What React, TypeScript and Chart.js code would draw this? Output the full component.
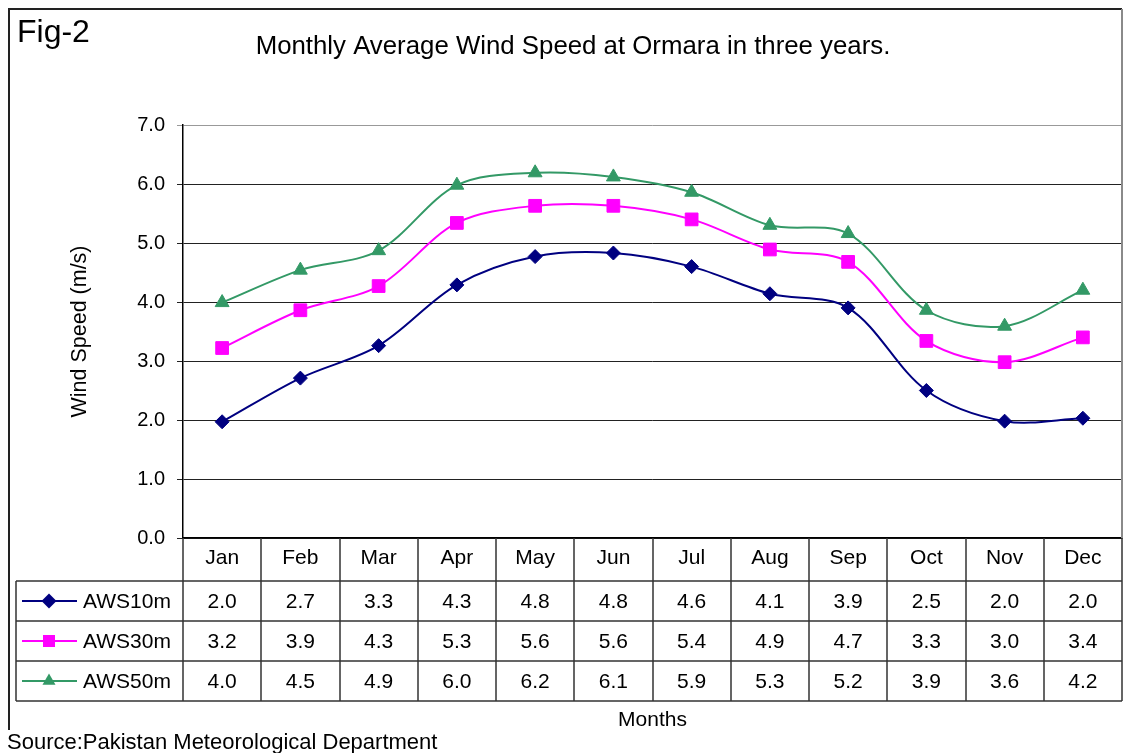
import React, { useEffect, useRef } from "react";
import { Chart, registerables } from "chart.js";

Chart.register(...registerables);

const months = ["Jan", "Feb", "Mar", "Apr", "May", "Jun", "Jul", "Aug", "Sep", "Oct", "Nov", "Dec"];
const aws10 = [1.97, 2.71, 3.26, 4.29, 4.77, 4.83, 4.6, 4.14, 3.9, 2.5, 1.98, 2.03];
const aws30 = [3.22, 3.86, 4.27, 5.34, 5.63, 5.63, 5.4, 4.89, 4.68, 3.34, 2.98, 3.4];
const aws50 = [3.99, 4.54, 4.87, 5.98, 6.19, 6.12, 5.86, 5.3, 5.16, 3.86, 3.59, 4.2];
const seriesNames = ["AWS10m", "AWS30m", "AWS50m"];
const seriesColors = ["#000080", "#FF00FF", "#339966"];
const seriesMarkers = ["diamond", "square", "triangle"];
const yTicks = [0, 1, 2, 3, 4, 5, 6, 7];

const FONT = "'Liberation Sans', Arial, sans-serif";
const W = 1116;
const H = 745;

function drawMarker(ctx: CanvasRenderingContext2D, kind: string, x: number, y: number, color: string) {
  ctx.save();
  ctx.fillStyle = color;
  ctx.beginPath();
  if (kind === "diamond") {
    const r = 7.5;
    ctx.moveTo(x, y - r);
    ctx.lineTo(x + r, y);
    ctx.lineTo(x, y + r);
    ctx.lineTo(x - r, y);
  } else if (kind === "square") {
    const s = 6;
    ctx.rect(x - s, y - s, 2 * s, 2 * s);
  } else {
    const r = 7.5;
    ctx.moveTo(x, y - r);
    ctx.lineTo(x + r * 0.87, y + r * 0.5);
    ctx.lineTo(x - r * 0.87, y + r * 0.5);
  }
  ctx.closePath();
  ctx.fill();
  ctx.restore();
}

const decorPlugin = {
  id: "decor",
  afterDraw(chart: any) {
    const ctx: CanvasRenderingContext2D = chart.ctx;
    const area = chart.chartArea;
    const xs = chart.scales.x;
    const colW = (area.right - area.left) / months.length;
    const allSeries = [aws10, aws30, aws50];

    ctx.save();
    // outer frame
    ctx.strokeStyle = "#222";
    ctx.lineWidth = 2;
    ctx.beginPath();
    ctx.moveTo(1, H);
    ctx.lineTo(1, 1);
    ctx.lineTo(area.right, 1);
    ctx.stroke();

    // plot border (right)
    ctx.strokeStyle = "#8a8a8a";
    ctx.lineWidth = 2;
    ctx.beginPath();
    ctx.moveTo(area.right, 1);
    ctx.lineTo(area.right, area.bottom);
    ctx.stroke();

    // texts
    ctx.fillStyle = "#000";
    ctx.textBaseline = "alphabetic";
    ctx.textAlign = "left";
    ctx.font = `32px ${FONT}`;
    ctx.fillText("Fig-2", 9, 34);
    ctx.textAlign = "center";
    ctx.font = `25.8px ${FONT}`;
    ctx.fillText("Monthly Average Wind Speed at Ormara in three years.", 565, 46);

    // table
    const rowTops = [area.bottom, 573, 613, 653, 693];
    ctx.strokeStyle = "#333";
    ctx.lineWidth = 1.5;
    ctx.beginPath();
    for (let i = 0; i <= months.length; i++) {
      const bx = Math.round(area.left + i * colW);
      ctx.moveTo(bx, area.bottom);
      ctx.lineTo(bx, rowTops[4]);
    }
    for (let r = 1; r <= 4; r++) {
      ctx.moveTo(8, rowTops[r]);
      ctx.lineTo(area.right, rowTops[r]);
    }
    ctx.moveTo(8, rowTops[1]);
    ctx.lineTo(8, rowTops[4]);
    ctx.stroke();

    ctx.textBaseline = "middle";
    for (let s = 0; s < allSeries.length; s++) {
      const cy = (rowTops[s + 1] + rowTops[s + 2]) / 2;
      ctx.strokeStyle = seriesColors[s];
      ctx.lineWidth = 2;
      ctx.beginPath();
      ctx.moveTo(14, cy);
      ctx.lineTo(69, cy);
      ctx.stroke();
      drawMarker(ctx, seriesMarkers[s], 41, cy, seriesColors[s]);
      ctx.fillStyle = "#000";
      ctx.textAlign = "left";
      ctx.font = `21px ${FONT}`;
      ctx.fillText(seriesNames[s], 75, cy + 1);
      ctx.textAlign = "center";
      allSeries[s].forEach((v, i) => {
        ctx.fillText(v.toFixed(1), xs.getPixelForValue(i), cy + 1);
      });
    }

    // source
    ctx.font = `22px ${FONT}`;
    const src = "Source:Pakistan Meteorological Department";
    const tw = ctx.measureText(src).width;
    ctx.fillStyle = "#fff";
    ctx.fillRect(0, 722, tw + 2, 23);
    ctx.fillStyle = "#000";
    ctx.textAlign = "left";
    ctx.textBaseline = "alphabetic";
    ctx.fillText(src, -1, 741);
    ctx.restore();
  },
};

export default function App() {
  const canvasRef = useRef<HTMLCanvasElement | null>(null);

  useEffect(() => {
    if (!canvasRef.current) return;
    const mk = (label: string, data: number[], color: string, style: any, radius: number) => ({
      label,
      data,
      borderColor: color,
      backgroundColor: color,
      borderWidth: 2,
      pointStyle: style,
      pointRadius: radius,
      pointHoverRadius: radius,
      pointBackgroundColor: color,
      pointBorderColor: color,
      pointBorderWidth: 1,
      tension: 0.33,
      fill: false,
    });
    const chart = new Chart(canvasRef.current, {
      type: "line",
      data: {
        labels: months,
        datasets: [
          mk(seriesNames[0], aws10, seriesColors[0], "rectRot", 7),
          mk(seriesNames[1], aws30, seriesColors[1], "rect", 9),
          mk(seriesNames[2], aws50, seriesColors[2], "triangle", 8),
        ],
      },
      options: {
        responsive: false,
        animation: false,
        devicePixelRatio: 1,
        layout: { autoPadding: false, padding: { top: 117, left: 0, right: 2, bottom: 0 } },
        plugins: {
          legend: { display: false },
          title: { display: false },
          tooltip: { enabled: false },
        },
        scales: {
          x: {
            type: "category",
            offset: true,
            grid: { display: false, drawTicks: false },
            border: { display: true, color: "#000", width: 1.5 },
            ticks: { color: "#000", font: { family: FONT, size: 21 }, padding: 8, maxRotation: 0, autoSkip: false },
            title: {
              display: true,
              text: "Months",
              color: "#000",
              font: { family: FONT, size: 21 },
              padding: { top: 0, bottom: 20 },
            },
            afterFit: (scale: any) => {
              scale.height = 215;
              scale.paddingLeft = 0;
              scale.paddingRight = 0;
            },
          },
          y: {
            min: 0,
            max: 7,
            afterBuildTicks: (scale: any) => {
              scale.ticks = yTicks.map((v) => ({ value: v }));
            },
            grid: {
              color: (c: any) => (c.tick && c.tick.value === 7 ? "#999" : "#222"),
              lineWidth: 1,
              tickLength: 6,
              drawTicks: true,
            },
            border: { display: true, color: "#000", width: 1.5 },
            ticks: {
              color: "#000",
              font: { family: FONT, size: 20 },
              padding: 12,
              callback: (v: any) => Number(v).toFixed(1),
            },
            title: {
              display: true,
              text: "Wind Speed (m/s)",
              color: "#000",
              font: { family: FONT, size: 21.5 },
              padding: { top: 59, bottom: 0 },
            },
            afterFit: (scale: any) => {
              scale.width = 175;
            },
          },
        },
      } as any,
      plugins: [decorPlugin],
    });
    return () => chart.destroy();
  }, []);

  return (
    <div style={{ width: W, height: H, background: "#fff" }}>
      <canvas ref={canvasRef} width={W} height={H} style={{ display: "block", width: W, height: H }} />
    </div>
  );
}
